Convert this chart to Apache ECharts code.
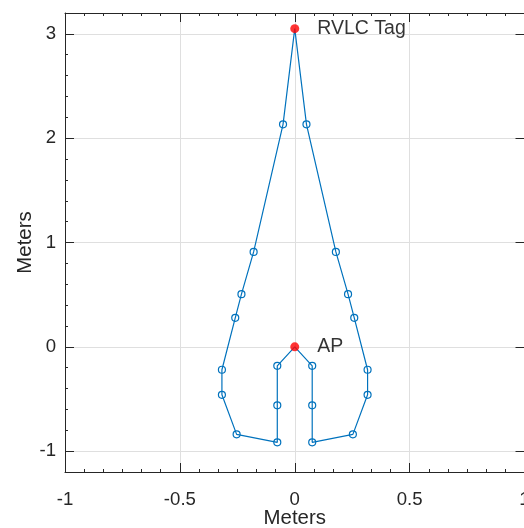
<!DOCTYPE html>
<html>
<head>
<meta charset="utf-8">
<script src="https://cdn.jsdelivr.net/npm/echarts@6/dist/echarts.min.js"></script>
<style>
html,body{margin:0;padding:0;background:#fff;}
#chart{width:524px;height:528px;}
</style>
</head>
<body>
<div id="chart"></div>
<script>
// Path of the measurement trace (meters)
var pathX = [0, -0.051, -0.179, -0.232, -0.259, -0.317, -0.317, -0.253, -0.076, -0.076, -0.076, 0, 0.076, 0.076, 0.076, 0.253, 0.317, 0.317, 0.259, 0.232, 0.179, 0.051, 0];
var pathY = [3.05, 2.133, 0.91, 0.505, 0.278, -0.22, -0.46, -0.839, -0.916, -0.561, -0.182, 0, -0.182, -0.561, -0.916, -0.839, -0.46, -0.22, 0.278, 0.505, 0.91, 2.133, 3.05];
// Anchor points
var anchorNames = ['RVLC Tag', 'AP'];
var anchorX = [0, 0];
var anchorY = [3.05, 0];
// Axis settings
var xTicks = [-1, -0.5, 0, 0.5, 1];
var yTicks = [-1, 0, 1, 2, 3];
var xName = 'Meters';
var yName = 'Meters';

var AXIS = '#262626';
var GRID = '#dfdfdf';
var BLUE = '#0072BD';
var FONT = 'Liberation Sans, Arial, Helvetica, sans-serif';

function isAnchor(x, y) {
  for (var i = 0; i < anchorX.length; i++) {
    if (Math.abs(anchorX[i] - x) < 1e-9 && Math.abs(anchorY[i] - y) < 1e-9) return true;
  }
  return false;
}

var pathData = pathX.map(function (x, i) {
  var item = { value: [x, pathY[i]] };
  if (isAnchor(x, pathY[i])) item.symbol = 'none';
  return item;
});
var anchorData = anchorX.map(function (x, i) {
  return { value: [x, anchorY[i]], name: anchorNames[i] };
});

function xAxisCfg(pos, labels) {
  return {
    type: 'value', position: pos, min: xTicks[0], max: xTicks[xTicks.length - 1], interval: 0.5,
    axisLine: { show: true, onZero: false, lineStyle: { color: AXIS, width: 1 } },
    axisTick: { show: true, inside: true, length: 9, lineStyle: { color: AXIS, width: 1 } },
    minorTick: { show: true, splitNumber: 6, length: 3, lineStyle: { color: AXIS, width: 1 } },
    axisLabel: { show: labels, color: AXIS, fontSize: 18.6, fontFamily: FONT, margin: 18,
      showMinLabel: true, showMaxLabel: true, hideOverlap: false },
    splitLine: { show: labels, lineStyle: { color: GRID, width: 1 } },
    name: labels ? xName : '', nameLocation: 'middle', nameGap: 36, nameMoveOverlap: false,
    nameTextStyle: { color: AXIS, fontSize: 20.4, fontFamily: FONT }
  };
}

function yMinorCfg(pos, labels) {
  return {
    type: 'value', position: pos, min: -1.2, max: 3.2, interval: 0.2,
    axisLine: { show: true, onZero: false, lineStyle: { color: AXIS, width: 1 } },
    axisTick: { show: true, inside: true, length: 3, lineStyle: { color: AXIS, width: 1 } },
    axisLabel: { show: labels, color: AXIS, fontSize: 18.6, fontFamily: FONT, margin: 9,
      formatter: function (v) {
        var r = Math.round(v);
        return (Math.abs(v - r) < 1e-6 && yTicks.indexOf(r) >= 0) ? String(r) : '';
      } },
    splitLine: { show: false },
    name: labels ? yName : '', nameLocation: 'middle', nameGap: 30, nameMoveOverlap: false,
    nameTextStyle: { color: AXIS, fontSize: 20.4, fontFamily: FONT }
  };
}

function yMajorCfg(pos, grid) {
  return {
    type: 'value', position: pos, min: -1.2, max: 3.2,
    axisLine: { show: false, onZero: false },
    axisTick: { show: true, inside: true, length: 9, customValues: yTicks, lineStyle: { color: AXIS, width: 1 } },
    axisLabel: { show: false, customValues: yTicks },
    splitLine: { show: grid, lineStyle: { color: GRID, width: 1 } }
  };
}

var chart = echarts.init(document.getElementById('chart'), null, { renderer: 'canvas' });
chart.setOption({
  animation: false,
  backgroundColor: '#ffffff',
  grid: { left: 65, right: -0.5, top: 13, bottom: 56, containLabel: false, outerBoundsMode: 'none' },
  xAxis: [xAxisCfg('bottom', true), xAxisCfg('top', false)],
  yAxis: [yMinorCfg('left', true), yMajorCfg('left', true), yMajorCfg('right', false)],
  series: [
    {
      type: 'line', xAxisIndex: 0, yAxisIndex: 0, data: pathData,
      symbol: 'circle', symbolSize: 7, showAllSymbol: true,
      lineStyle: { color: BLUE, width: 1.2 },
      itemStyle: { color: 'rgba(255,255,255,0)', borderColor: BLUE, borderWidth: 1.2 },
      z: 3
    },
    {
      type: 'scatter', xAxisIndex: 0, yAxisIndex: 0, data: anchorData,
      symbol: 'circle', symbolSize: 9,
      itemStyle: { color: '#ff0000' },
      label: { show: true, position: 'right', distance: 18, formatter: '{b}',
        color: '#000000', fontSize: 19.5, fontFamily: FONT },
      z: 4
    }
  ]
});
</script>
</body>
</html>
